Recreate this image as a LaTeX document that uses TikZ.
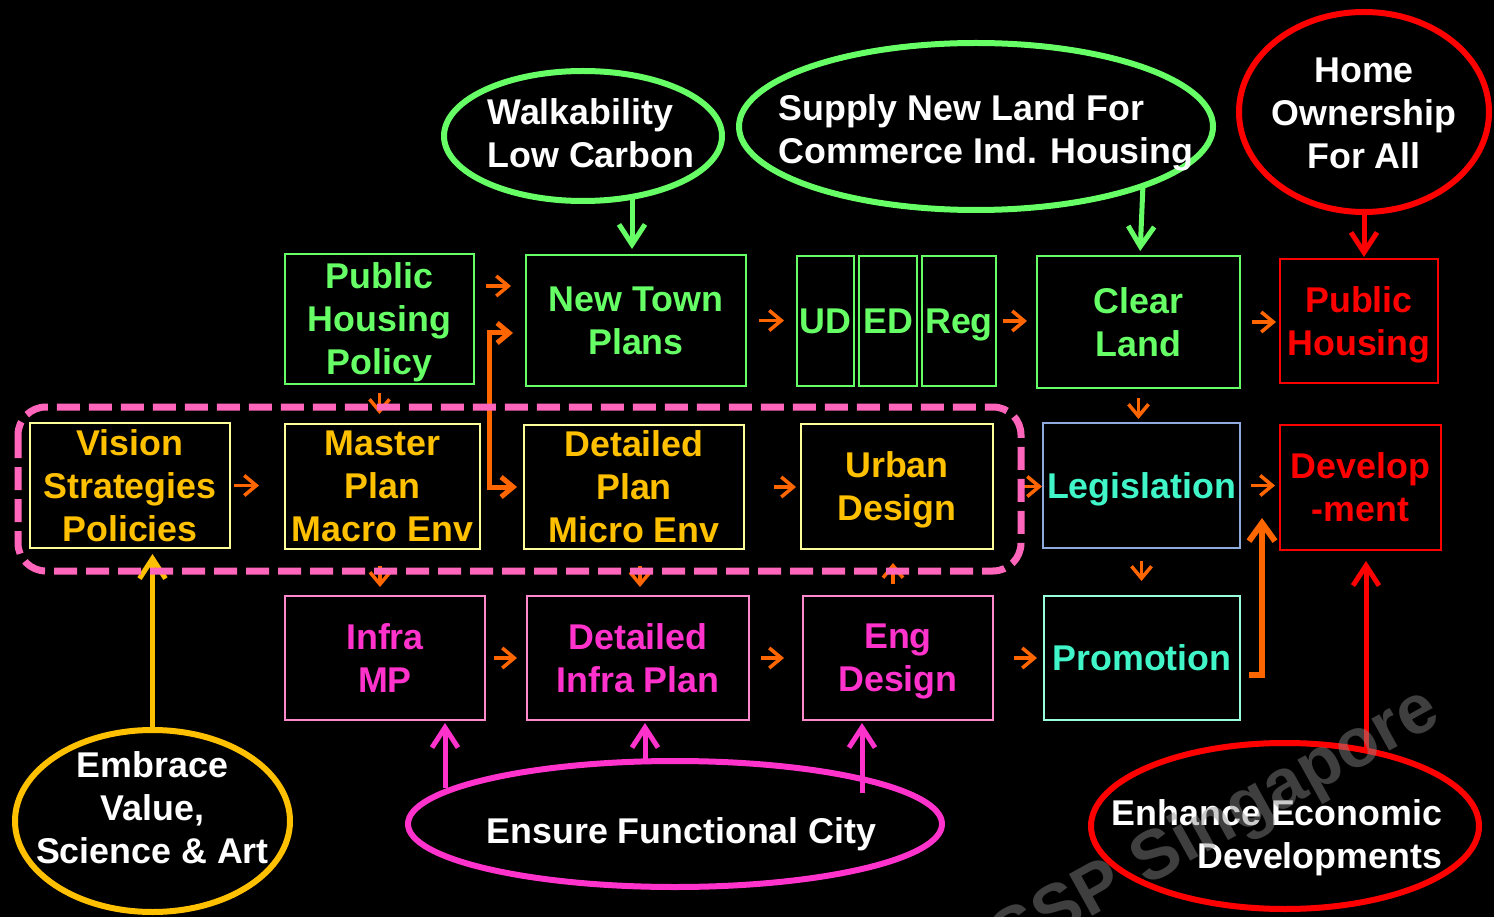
\documentclass[tikz,border=0pt]{standalone}
\usepackage{fontspec}
\setmainfont{Liberation Sans}
\usepackage{tikz}
\usetikzlibrary{positioning}
\usetikzlibrary{arrows.meta,shapes}
\usetikzlibrary{calc}
\definecolor{hgreen}{RGB}{102,255,102}
\definecolor{hgold}{RGB}{255,192,0}
\definecolor{hyellow}{RGB}{255,255,153}
\definecolor{hred}{RGB}{255,0,0}
\definecolor{hpink}{RGB}{255,102,187}
\definecolor{hmagenta}{RGB}{255,51,204}
\definecolor{hpinkline}{RGB}{255,136,204}
\definecolor{haqua}{RGB}{64,245,200}
\definecolor{hsteel}{RGB}{143,170,220}
\definecolor{hmint}{RGB}{153,255,221}
\definecolor{horange}{RGB}{255,102,0}
\newcommand{\boxfont}{\fontsize{35.8pt}{43pt}\selectfont\bfseries}
\tikzstyle{box}=[rectangle,draw,line width=2pt,inner sep=0pt,align=center,text depth=0pt,font=\boxfont]
\tikzstyle{greenbox}=[box,draw=hgreen,text=hgreen]
\tikzstyle{goldbox}=[box,draw=hyellow,text=hgold]
\tikzstyle{redbox}=[box,draw=hred,text=hred]
\tikzstyle{pinkbox}=[box,draw=hpinkline,text=hmagenta]
\tikzstyle{aquabox}=[box,text=haqua]
\tikzstyle{goal}=[ellipse,line width=6pt,inner sep=0pt]
\tikzstyle{goaltext}=[text=white,font=\boxfont,inner sep=0pt]
\tikzstyle{flow}=[draw=horange,line width=3.5pt,-{Straight Barb[length=12pt,width=20pt]}]
\tikzstyle{feed}=[line width=5pt,-{Straight Barb[length=20pt,width=26pt]}]
\tikzstyle{frame}=[draw=hpink,line width=7pt,dash pattern=on 23pt off 9pt,rounded corners=28pt]
\tikzstyle{watermark}=[text=black!45,text opacity=0.45,rotate=29,anchor=base east,font=\fontsize{69.4pt}{80pt}\selectfont\bfseries]

\begin{document}
\begin{tikzpicture}[x=1pt,y=-1pt]
\useasboundingbox (0,0) rectangle (1494,917);
\fill[black] (0,0) rectangle (1494,917);

%Goals
\node[goal,draw=hgreen,minimum width=278,minimum height=130] (walk) at (583,136) {};
\node[goaltext,align=left] (walktxt) at ($(walk)+(8,-2.5)$) {Walkability\\Low Carbon};
\node[goal,draw=hgreen,minimum width=474,minimum height=167] (supply) at (976,126.5) {};
\node[goaltext,align=left] (supplytxt) at ($(supply)+(10,6.5)$) {Supply New Land For\\Commerce Ind. Housing};
\node[goal,draw=hred,minimum width=250,minimum height=200] (home) at (1364,112) {};
\node[goaltext,align=center] (hometxt) at ($(home)+(0,1)$) {Home\\Ownership\\For All};
\node[goal,draw=hgold,minimum width=275,minimum height=182] (emb) at (152.5,821) {};
\node[goaltext,align=center] (embtxt) at ($(emb)+(0,-13)$) {Embrace\\Value,\\Science \& Art};
\node[goal,draw=hmagenta,minimum width=534,minimum height=126] (ens) at (675,824) {};
\node[goaltext,align=center] (enstxt) at ($(ens)+(6.5,10)$) {Ensure Functional City};
\node[goal,draw=hred,minimum width=388,minimum height=166] (enh) at (1285,826) {};
\node[goaltext,align=right] (enhtxt) at ($(enh)+(-8,11.5)$) {Enhance Economic\\Developments};

%Boxes
\foreach \pos/\name/\bw/\bh/\txt in {{(379.5,319)/php/189/130/Public\\Housing\\Policy}, {(636,320.5)/ntp/220/131/New Town\\Plans}, {(825.5,321)/ud/57/130/UD}, {(888,321)/ed/58/130/ED}, {(959,321)/reg/74/130/Reg}, {(1138.5,322)/cl/203/132/Clear\\Land}}
    \node[greenbox,minimum width=\bw,minimum height=\bh] (\name) at \pos {\txt};
\foreach \pos/\name/\bw/\bh/\txt in {{(130,485.5)/vsp/200/125/Vision\\Strategies\\Policies}, {(382.5,486.5)/mp/195/125/Master\\Plan\\Macro Env}, {(634,487)/dp/220/124/Detailed\\Plan\\Micro Env}, {(897,486.5)/urb/192/125/Urban\\Design}}
    \node[goldbox,minimum width=\bw,minimum height=\bh] (\name) at \pos {\txt};
\foreach \pos/\name/\bw/\bh/\txt in {{(1359,321)/ph/158/124/Public\\Housing}, {(1360.5,487.5)/dev/161/125/Develop\\-ment}}
    \node[redbox,minimum width=\bw,minimum height=\bh] (\name) at \pos {\txt};
\foreach \pos/\name/\bw/\bh/\txt in {{(385,658)/imp/200/124/Infra\\MP}, {(638,658)/dip/222/124/Detailed\\Infra Plan}, {(898,658)/eng/190/124/Eng\\Design}}
    \node[pinkbox,minimum width=\bw,minimum height=\bh] (\name) at \pos {\txt};
\node[aquabox,draw=hsteel,minimum width=197,minimum height=125] (leg) at (1141.5,485.5) {Legislation};
\node[aquabox,draw=hmint,minimum width=196,minimum height=124] (pro) at (1142,658) {Promotion};

%Flow
\foreach \src/\dst/\sa/\sb in {ntp/ud/12/12, reg/cl/6/9, cl/ph/11/3, vsp/mp/3/25, dp/urb/29/4, urb/leg/27/0, leg/dev/10/4, imp/dip/8/9, dip/eng/11/18, eng/pro/20/6}
    \draw[flow,shorten <=\sa pt,shorten >=\sb pt] (\src.east) -- (\src.east -| \dst.west);
\foreach \src/\dst/\sa/\sb in {php/mp/8/9, cl/leg/9/3, leg/pro/12/14}
    \draw[flow,shorten <=\sa pt,shorten >=\sb pt] (\src.south) -- (\src.south |- \dst.north);
\draw[flow,shorten <=16pt,shorten >=8pt] ([xshift=-2.5pt]mp.south) -- ([xshift=-2.5pt]mp.south |- imp.north);
\draw[flow,shorten <=16pt,shorten >=8pt] ([xshift=6pt]dp.south) -- ([xshift=6pt]dp.south |- dip.north);
\draw[flow,shorten <=11pt,shorten >=13pt] ([xshift=-5pt]eng.north) -- ([xshift=-5pt]eng.north |- urb.south);
\draw[flow,shorten <=11pt,shorten >=14pt] ([yshift=33pt]php.east) -- ([yshift=33pt]php.east -| ntp.west);
\draw[flow,line width=5pt,{Straight Barb[length=12pt,width=20pt]}-{Straight Barb[length=12pt,width=20pt]},shorten <=12pt,shorten >=6pt] ([yshift=-12.5pt]ntp.west) -| ($(dp.west)+(-34,0)$) -- (dp.west);
\draw[flow,line width=6pt,-{Straight Barb[length=18pt,width=26pt]},shorten <=8pt] ([yshift=-17pt]pro.east) -| ($(dev.west)+(-17,30.5)$);

%Feeds
\coordinate (g1) at ($(walk)+(49,58)$);
\coordinate (g2) at ($(supply)+(167,58)$);
\coordinate (e1) at ($(ens)+(-230,-36)$);
\coordinate (e2) at ($(ens)+(-30,-64)$);
\coordinate (e3) at ($(ens)+(187,-31)$);
\coordinate (e4) at ($(enh)+(81,-78)$);
\draw[feed,draw=hgreen,shorten >=5pt] (g1) -- (g1 |- ntp.north);
\draw[feed,draw=hgreen,shorten >=4pt] (g2) -- ([xshift=1.5pt]cl.north);
\draw[feed,draw=hred,shorten >=1pt] (home.south) -- (home.south |- ph.north);
\draw[feed,draw=hgold,shorten >=5pt] (emb.north) -- (emb.north |- vsp.south);
\foreach \src/\dst in {e1/imp, e2/dip, e3/eng}
    \draw[feed,draw=hmagenta,shorten >=2pt] (\src) -- (\src |- \dst.south);
\draw[feed,draw=hred,shorten >=10pt] (e4) -- (e4 |- dev.south);

%Frame
\draw[frame] (18,407) rectangle (1021,571);

%Watermark
\node[watermark] (wm) at (1446,720) {SSP Singapore};

\end{tikzpicture}
\end{document}
